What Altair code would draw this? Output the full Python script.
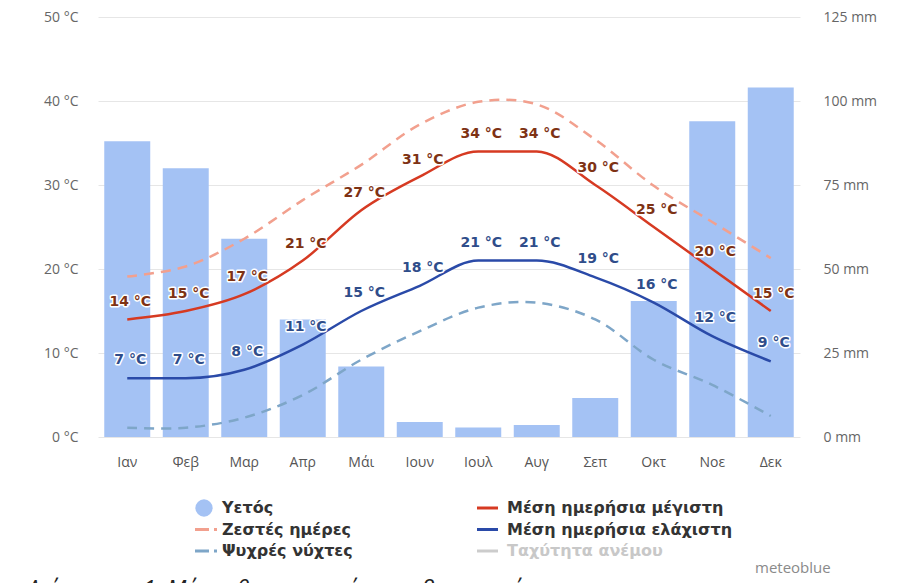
import altair as alt
import pandas as pd

# ---- data ----
months = ["Ιαν", "Φεβ", "Μαρ", "Απρ", "Μάι", "Ιουν", "Ιουλ", "Αυγ", "Σεπ", "Οκτ", "Νοε", "Δεκ"]
precip_mm = [88, 80, 59, 35, 21, 4.5, 2.8, 3.6, 11.6, 40.5, 94, 104]
temp_max = [14, 15, 17, 21, 27, 31, 34, 34, 30, 25, 20, 15]
temp_min = [7, 7, 8, 11, 15, 18, 21, 21, 19, 16, 12, 9]
hot_days = [19.1, 20.3, 23.6, 28.2, 32.4, 37.2, 39.9, 39.6, 35.4, 29.9, 25.6, 21.3]
cold_nights = [1.1, 1.1, 2.3, 5.0, 9.2, 12.6, 15.4, 16.0, 14.0, 9.2, 6.2, 2.5]

temp_ticks = [0, 10, 20, 30, 40, 50]
precip_ticks = [0, 25, 50, 75, 100, 125]

legend_labels = ["Υετός", "Ζεστές ημέρες", "Ψυχρές νύχτες",
                 "Μέση ημερήσια μέγιστη", "Μέση ημερήσια ελάχιστη", "Ταχύτητα ανέμου"]
legend_kinds = ["circle", "dash", "dash", "line", "line", "line"]

caption = "Διάγραμμα 1: Μέσες θερμοκρασίες και βροχοπτώσεις"
brand = "meteoblue"

# ---- styles ----
C_BAR = "#a4c2f4"
C_MAX = "#d63a22"
C_MIN = "#2a4aa8"
C_HOT = "#f2a08e"
C_COLD = "#7ea6c8"
C_WIND = "#cccccc"
C_MAX_LBL = "#7e3214"
C_MIN_LBL = "#2f4d8a"
legend_colors = [C_BAR, C_HOT, C_COLD, C_MAX, C_MIN, C_WIND]
legend_text_colors = ["#333333"] * 5 + ["#c8c8c8"]

AX_FONT = "Open Sans"

df = pd.DataFrame({
    "month": months,
    "precip": precip_mm,
    "tmax": temp_max,
    "tmin": temp_min,
    "hot": hot_days,
    "cold": cold_nights,
})
df["tmax_lbl"] = [f"{v} °C" for v in temp_max]
df["tmin_lbl"] = [f"{v} °C" for v in temp_min]

x_band = alt.X(
    "month:N", sort=months,
    scale=alt.Scale(paddingInner=0.214, paddingOuter=0.107),
    axis=alt.Axis(title=None, labelAngle=0, domain=False, ticks=False,
                  labelColor="#555555", labelFontSize=14, labelFont=AX_FONT,
                  labelPadding=18),
)
x_point = alt.X("month:N", sort=months, scale=alt.Scale(type="point", padding=0.5), axis=None)

temp_scale = alt.Scale(domain=[0, 50])


def ty(field, show_axis=False):
    if show_axis:
        ax = alt.Axis(orient="left", values=temp_ticks, labelExpr="datum.value + ' °C'",
                      grid=True, gridColor="#e6e6e6", domain=False, ticks=False, title=None,
                      labelPadding=20, labelColor="#666666", labelFontSize=14, labelFont=AX_FONT)
    else:
        ax = None
    return alt.Y(f"{field}:Q", scale=temp_scale, axis=ax)


base = alt.Chart(df)

bars = base.mark_bar(color=C_BAR).encode(
    x=x_band,
    y=alt.Y("precip:Q", scale=alt.Scale(domain=[0, 125]),
            axis=alt.Axis(orient="right", values=precip_ticks, labelExpr="datum.value + ' mm'",
                          title=None, domain=False, ticks=False, grid=False, labelPadding=23,
                          labelColor="#666666", labelFontSize=14, labelFont=AX_FONT)),
)

grid_layer = base.mark_line(opacity=0).encode(x=x_point, y=ty("tmax", True))

hot_line = base.mark_line(color=C_HOT, strokeWidth=2.5, strokeDash=[10, 7], interpolate="catmull-rom").encode(
    x=x_point, y=ty("hot"))
cold_line = base.mark_line(color=C_COLD, strokeWidth=2.5, strokeDash=[10, 7], interpolate="catmull-rom").encode(
    x=x_point, y=ty("cold"))
max_line = base.mark_line(color=C_MAX, strokeWidth=2.5, interpolate="monotone").encode(
    x=x_point, y=ty("tmax"))
min_line = base.mark_line(color=C_MIN, strokeWidth=2.5, interpolate="monotone").encode(
    x=x_point, y=ty("tmin"))


def labels(field, lbl, color, dy):
    common = dict(font="DejaVu Sans", fontSize=14, fontWeight="bold", dx=3, dy=dy, baseline="middle")
    halo = base.mark_text(fill="white", stroke="white", strokeWidth=3, strokeJoin="round", **common).encode(
        x=x_point, y=ty(field), text=f"{lbl}:N")
    txt = base.mark_text(fill=color, **common).encode(x=x_point, y=ty(field), text=f"{lbl}:N")
    return [halo, txt]


max_lbls = labels("tmax", "tmax_lbl", C_MAX_LBL, -17)
min_lbls = labels("tmin", "tmin_lbl", C_MIN_LBL, -18)

# ---- custom legend (below the plot) ----
leg = pd.DataFrame({"label": legend_labels, "kind": legend_kinds,
                    "color": legend_colors, "tcolor": legend_text_colors})
leg["i"] = range(len(leg))
leg_base = alt.Chart(leg).transform_calculate(
    col="floor(datum.i / 3)", row="datum.i % 3"
).transform_calculate(
    tx="124 + datum.col * 285", ty="491 + datum.row * 21.5"
)

leg_text = leg_base.mark_text(align="left", baseline="middle", font="DejaVu Sans", fontSize=16,
                              fontWeight="bold").encode(
    x=alt.X("tx:Q", scale=None), y=alt.Y("ty:Q", scale=None),
    text="label:N", color=alt.Color("tcolor:N", scale=None))

leg_circle = leg_base.transform_filter("datum.kind == 'circle'").transform_calculate(
    sx="datum.tx - 18").mark_point(filled=True, size=300, opacity=1, shape="circle").encode(
    x=alt.X("sx:Q", scale=None), y=alt.Y("ty:Q", scale=None), color=alt.Color("color:N", scale=None))

leg_dash = leg_base.transform_filter("datum.kind == 'dash'").transform_calculate(
    sx="datum.tx - 27", sx2="datum.tx - 5").mark_rule(strokeWidth=3, strokeDash=[14, 5, 3, 40]).encode(
    x=alt.X("sx:Q", scale=None), x2="sx2:Q", y=alt.Y("ty:Q", scale=None), color=alt.Color("color:N", scale=None))

leg_line = leg_base.transform_filter("datum.kind == 'line'").transform_calculate(
    sx="datum.tx - 30", sx2="datum.tx - 9").mark_rule(strokeWidth=3).encode(
    x=alt.X("sx:Q", scale=None), x2="sx2:Q", y=alt.Y("ty:Q", scale=None), color=alt.Color("color:N", scale=None))

notes = pd.DataFrame({"t": [brand, caption], "kind": ["brand", "caption"]})
brand_text = alt.Chart(notes).transform_filter("datum.kind == 'brand'").mark_text(
    align="left", baseline="middle", font=AX_FONT, fontSize=15, color="#8a8a8a").encode(
    x=alt.value(657), y=alt.value(551), text="t:N")
caption_text = alt.Chart(notes).transform_filter("datum.kind == 'caption'").mark_text(
    align="left", baseline="alphabetic", font=AX_FONT, fontSize=23, fontStyle="italic", color="#222222").encode(
    x=alt.value(-71), y=alt.value(580), text="t:N")

chart = alt.layer(
    bars, grid_layer, hot_line, cold_line, max_line, min_line,
    *max_lbls, *min_lbls,
    leg_circle, leg_dash, leg_line, leg_text, brand_text, caption_text,
).resolve_scale(x="independent", y="independent", color="independent").properties(
    width=702, height=420,
    autosize=alt.AutoSizeParams(type="none"),
    padding={"left": 90, "top": 9, "right": 108, "bottom": 160},
).configure_view(stroke=None)

chart.save("out.html", embed_options={"renderer": "svg", "actions": False})
